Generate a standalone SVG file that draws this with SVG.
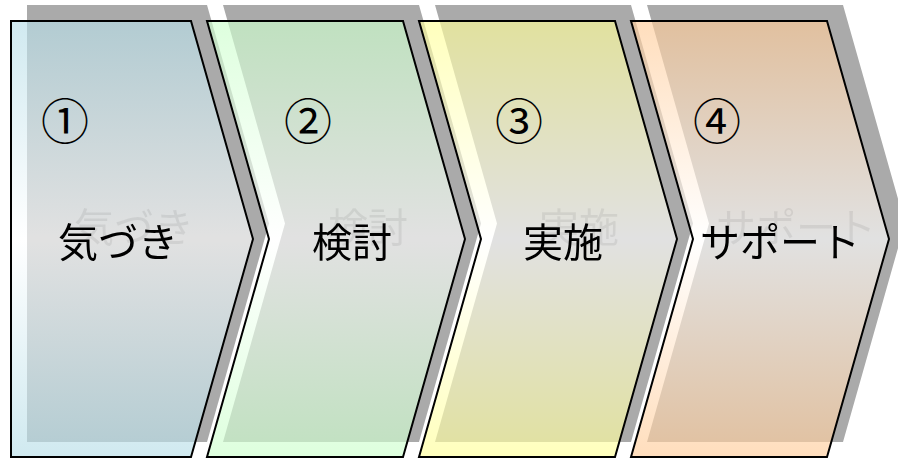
<svg xmlns="http://www.w3.org/2000/svg" width="898" height="459" viewBox="0 0 898 459">
<style>
.sh{fill:#aaaaaa;}
.sp{stroke:#000;stroke-width:2;stroke-linejoin:miter;fill-opacity:0.65;}
.num{font-family:"Noto Sans CJK JP","Noto Sans",sans-serif;font-size:48px;fill:#000;text-anchor:middle;}
.lbl{font-family:"Noto Sans CJK JP","Noto Sans",sans-serif;font-size:40px;fill:#000;text-anchor:middle;filter:url(#ts);}
</style>
<defs>
<filter id="ts" x="-30%" y="-80%" width="170%" height="260%">
<feOffset in="SourceAlpha" dx="16" dy="-15" result="o"/>
<feFlood flood-color="#000" flood-opacity="0.07"/>
<feComposite in2="o" operator="in" result="s"/>
<feMerge><feMergeNode in="s"/><feMergeNode in="SourceGraphic"/></feMerge>
</filter>
<linearGradient id="g1" x1="0" y1="0" x2="0" y2="1"><stop offset="0" stop-color="#b7dee8"/><stop offset="0.5" stop-color="#ffffff"/><stop offset="1" stop-color="#b7dee8"/></linearGradient>
<linearGradient id="g2" x1="0" y1="0" x2="0" y2="1"><stop offset="0" stop-color="#ccffcc"/><stop offset="0.5" stop-color="#ffffff"/><stop offset="1" stop-color="#ccffcc"/></linearGradient>
<linearGradient id="g3" x1="0" y1="0" x2="0" y2="1"><stop offset="0" stop-color="#ffff99"/><stop offset="0.5" stop-color="#ffffff"/><stop offset="1" stop-color="#ffff99"/></linearGradient>
<linearGradient id="g4" x1="0" y1="0" x2="0" y2="1"><stop offset="0" stop-color="#ffcc99"/><stop offset="0.5" stop-color="#ffffff"/><stop offset="1" stop-color="#ffcc99"/></linearGradient>
</defs>
<rect width="898" height="459" fill="#ffffff"/>
<g id="node1">
<polygon class="sh" points="27,5 207,5 269,223.5 207,442 27,442"/>
<polygon class="sp" fill="url(#g1)" points="11,21 191,21 253,239 191,457 11,457"/>
<text class="num" x="65" y="139">①</text>
<text class="lbl" x="118" y="257">気づき</text>
</g>
<g id="node2">
<polygon class="sh" points="223,5 419,5 481,223.5 419,442 223,442 285,223.5"/>
<polygon class="sp" fill="url(#g2)" points="207,21 403,21 465,239 403,457 207,457 269,239"/>
<text class="num" x="308" y="139">②</text>
<text class="lbl" x="352" y="257">検討</text>
</g>
<g id="node3">
<polygon class="sh" points="435,5 631,5 693,223.5 631,442 435,442 497,223.5"/>
<polygon class="sp" fill="url(#g3)" points="419,21 615,21 677,239 615,457 419,457 481,239"/>
<text class="num" x="519" y="139">③</text>
<text class="lbl" x="563" y="257">実施</text>
</g>
<g id="node4">
<polygon class="sh" points="647,5 843,5 905,223.5 843,442 647,442 709,223.5"/>
<polygon class="sp" fill="url(#g4)" points="631,21 827,21 889,239 827,457 631,457 693,239"/>
<text class="num" x="717" y="139">④</text>
<text class="lbl" x="780" y="257">サポート</text>
</g>
<g id="connectors"/>
</svg>
